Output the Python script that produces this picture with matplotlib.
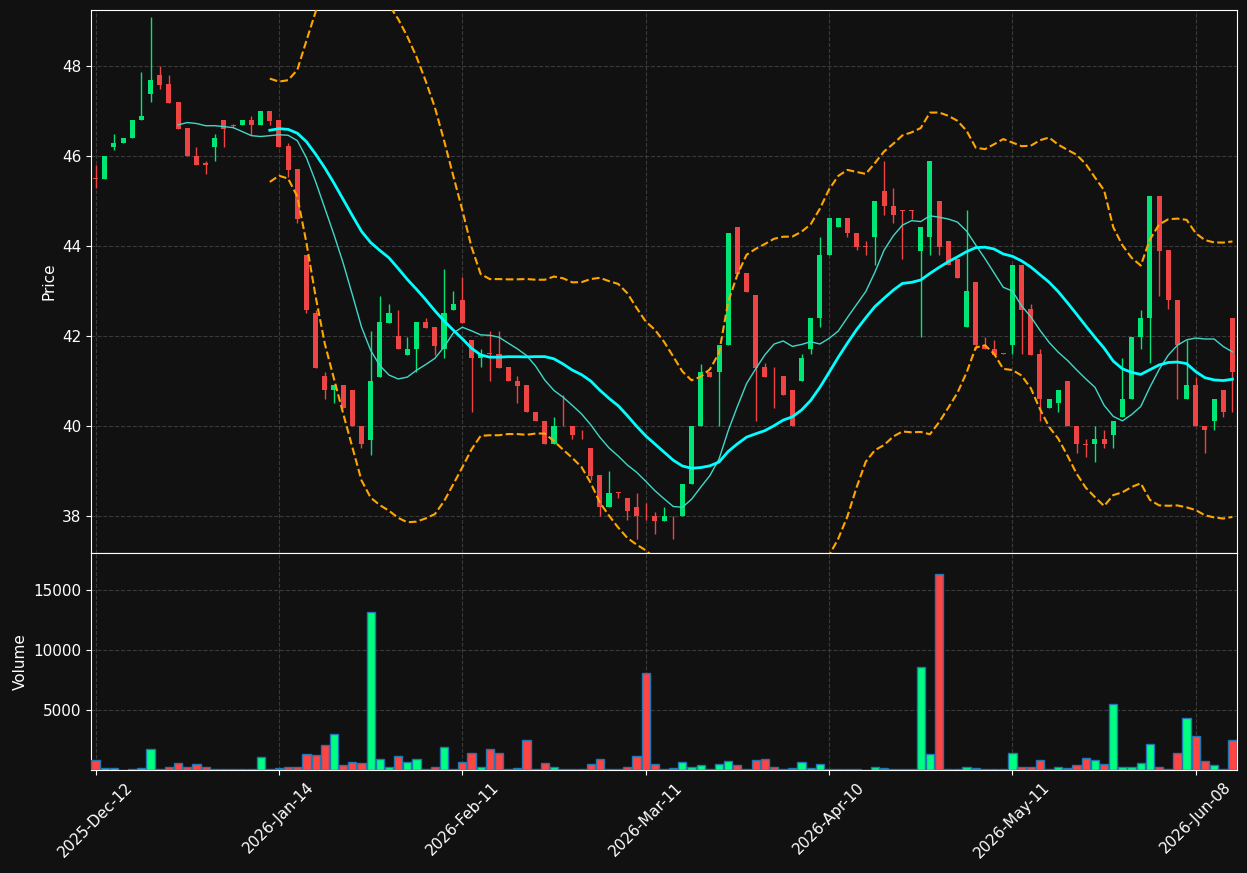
import numpy as np
import pandas as pd
import matplotlib
matplotlib.use('Agg')
import matplotlib.pyplot as plt

# daily bars (index 0 = 2025-Dec-12)
opens = [45.50, 45.48, 46.19, 46.28, 46.39, 46.79, 47.38, 47.80, 47.60, 47.20,
         46.61, 46.00, 45.83, 46.19, 46.79, 46.69, 46.68, 46.79, 46.68, 46.99,
         46.79, 46.21, 45.70, 43.79, 42.50, 41.12, 40.79, 40.90, 40.80, 40.00,
         39.69, 41.09, 42.29, 42.00, 41.57, 41.70, 42.30, 42.20, 41.70, 42.58,
         42.80, 41.90, 41.50, 41.61, 41.60, 41.31, 41.00, 40.90, 40.30, 40.11,
         39.59, 40.01, 40.00, 39.72, 39.50, 38.92, 38.21, 38.53, 38.40, 38.21,
         38.01, 38.00, 37.90, 38.01, 37.99, 38.71, 40.00, 41.19, 41.19, 41.79,
         44.41, 43.39, 42.90, 41.31, 41.12, 41.11, 40.80, 40.99, 41.70, 42.39,
         43.79, 44.41, 44.61, 44.29, 43.99, 44.20, 45.21, 44.89, 44.80, 44.80,
         43.89, 44.20, 45.00, 44.10, 43.70, 42.19, 43.19, 41.80, 41.71, 41.61,
         41.79, 43.58, 42.60, 41.60, 40.39, 40.50, 40.99, 40.00, 39.60, 39.59,
         39.71, 39.79, 40.19, 40.59, 41.98, 42.39, 45.10, 43.90, 42.80, 40.59,
         40.90, 40.00, 40.11, 40.80, 42.39]
highs = [45.79, 46.00, 46.48, 46.40, 46.79, 47.87, 49.08, 48.00, 47.79, 47.20,
         46.61, 46.20, 45.89, 46.48, 46.79, 46.70, 46.79, 46.89, 46.99, 46.99,
         46.79, 46.29, 45.70, 43.79, 42.58, 41.19, 40.90, 40.90, 40.80, 40.00,
         42.10, 42.89, 42.70, 42.58, 41.98, 42.30, 42.39, 42.20, 43.49, 43.00,
         43.30, 41.90, 41.70, 42.10, 42.10, 41.31, 41.11, 40.90, 40.30, 40.11,
         40.19, 40.69, 40.00, 39.90, 39.50, 38.92, 38.99, 38.53, 38.40, 38.52,
         38.30, 38.10, 38.19, 38.01, 38.71, 40.00, 41.38, 41.19, 41.79, 44.29,
         44.41, 43.39, 42.90, 41.39, 41.30, 41.11, 40.80, 41.60, 42.39, 44.20,
         44.61, 44.61, 44.61, 44.29, 44.10, 45.00, 45.89, 45.29, 44.80, 44.80,
         44.41, 45.89, 45.00, 44.10, 43.70, 44.79, 43.19, 41.98, 41.90, 41.61,
         43.58, 43.58, 42.70, 41.70, 40.59, 40.80, 40.99, 40.00, 39.71, 40.00,
         39.90, 40.11, 41.50, 41.98, 42.58, 45.10, 45.10, 43.90, 42.80, 41.90,
         41.09, 40.00, 40.59, 40.80, 42.39]
lows = [45.29, 45.48, 46.14, 46.28, 46.39, 46.79, 47.19, 47.48, 47.18, 46.59,
        45.99, 45.79, 45.60, 45.89, 46.20, 46.62, 46.68, 46.47, 46.68, 46.68,
        46.19, 45.52, 44.50, 42.50, 41.29, 40.59, 40.50, 40.39, 39.99, 39.50,
        39.35, 41.09, 42.29, 41.70, 41.57, 41.19, 42.17, 41.58, 41.50, 42.58,
        42.29, 40.31, 41.30, 41.00, 41.29, 41.00, 40.50, 40.31, 40.11, 39.59,
        39.59, 39.99, 39.71, 39.70, 38.81, 38.00, 38.21, 38.40, 37.92, 37.48,
        37.91, 37.60, 37.90, 37.48, 37.99, 38.71, 40.00, 41.09, 40.00, 41.79,
        43.37, 42.98, 40.11, 41.09, 40.40, 40.69, 39.99, 40.99, 41.60, 42.19,
        43.79, 44.41, 44.20, 43.90, 43.79, 43.58, 44.69, 44.50, 43.70, 44.60,
        41.98, 43.79, 43.79, 43.58, 43.29, 42.19, 41.71, 41.70, 41.58, 41.59,
        41.60, 41.60, 41.58, 40.11, 40.39, 40.31, 39.99, 39.40, 39.31, 39.21,
        39.50, 39.50, 40.19, 40.59, 41.70, 41.39, 42.89, 42.60, 40.59, 40.59,
        39.99, 39.40, 39.90, 40.19, 40.31]
closes = [45.48, 46.00, 46.29, 46.40, 46.79, 46.89, 47.68, 47.58, 47.18, 46.59,
          45.99, 45.79, 45.80, 46.40, 46.59, 46.67, 46.79, 46.68, 46.99, 46.78,
          46.19, 45.68, 44.60, 42.58, 41.29, 40.79, 40.90, 40.39, 39.99, 39.59,
          40.99, 42.30, 42.50, 41.70, 41.71, 42.30, 42.17, 41.77, 42.50, 42.70,
          42.29, 41.50, 41.60, 41.59, 41.29, 41.00, 40.89, 40.31, 40.11, 39.59,
          40.00, 39.99, 39.80, 39.70, 38.90, 38.21, 38.52, 38.51, 38.11, 38.00,
          37.99, 37.90, 38.00, 37.99, 38.71, 40.00, 41.19, 41.09, 41.79, 44.29,
          43.37, 42.98, 41.29, 41.09, 41.10, 40.69, 39.99, 41.52, 42.39, 43.79,
          44.61, 44.61, 44.29, 43.98, 43.97, 45.00, 44.89, 44.69, 44.78, 44.78,
          44.41, 45.89, 43.98, 43.58, 43.29, 43.00, 41.79, 41.70, 41.58, 41.59,
          43.58, 42.58, 41.58, 40.59, 40.59, 40.80, 39.99, 39.59, 39.58, 39.71,
          39.59, 40.11, 40.59, 41.98, 42.39, 45.10, 43.89, 42.79, 41.79, 40.90,
          39.99, 39.90, 40.59, 40.31, 41.19]
volumes = [800, 190, 190, 20, 110, 190, 1720, 110, 280, 550,
           280, 470, 280, 110, 110, 50, 50, 50, 1050, 50,
           190, 280, 280, 1300, 1220, 2050, 2960, 390, 640, 550,
           13170, 885, 280, 1135, 640, 885, 50, 280, 1880, 110,
           640, 1380, 280, 1720, 1380, 110, 190, 2460, 50, 550,
           280, 110, 50, 110, 470, 885, 110, 110, 280, 1135,
           8030, 470, 50, 190, 640, 280, 390, 50, 470, 720,
           390, 50, 800, 885, 280, 110, 190, 640, 190, 470,
           110, 110, 50, 50, 20, 280, 190, 50, 110, 50,
           8610, 1300, 16330, 50, 50, 280, 190, 110, 50, 50,
           1380, 280, 280, 800, 110, 280, 190, 390, 970, 800,
           470, 5450, 280, 280, 550, 2130, 280, 110, 1380, 4290,
           2800, 720, 390, 50, 2460]

tick_pos = [0, 20, 40, 60, 80, 100, 120]
tick_labels = ['2025-Dec-12', '2026-Jan-14', '2026-Feb-11', '2026-Mar-11',
               '2026-Apr-10', '2026-May-11', '2026-Jun-08']

df = pd.DataFrame({'open': opens, 'high': highs, 'low': lows,
                   'close': closes, 'volume': volumes})
df['sma10'] = df.close.rolling(10).mean()
df['sma20'] = df.close.rolling(20).mean()
std20 = df.close.rolling(20).std()
df['upper'] = df.sma20 + 2 * std20
df['lower'] = df.sma20 - 2 * std20

x = np.arange(len(df))
up = df.close >= df.open
candle_col = np.where(up, '#00e676', '#ef4444')
vol_col = np.where(up, '#00ff80', '#ff4444')

bg = '#111111'
fig = plt.figure(figsize=(12.47, 8.73), dpi=100, facecolor=bg)
ax1 = fig.add_axes([0.073, 0.3666, 0.919, 0.622], facecolor=bg)
ax2 = fig.add_axes([0.073, 0.118, 0.919, 0.2486], facecolor=bg, sharex=ax1)

# candles
ax1.vlines(x, df.low, df.high, color=candle_col, linewidth=1, zorder=2)
body_h = np.maximum((df.close - df.open).abs(), 0.02)
ax1.bar(x, body_h, bottom=np.minimum(df.open, df.close), width=0.55,
        color=candle_col, zorder=3)

ax1.plot(x, df.sma10, color='#40d8c8', linewidth=1, zorder=4)
ax1.plot(x, df.sma20, color='cyan', linewidth=2, zorder=4)
ax1.plot(x, df.upper, color='orange', linestyle='--', linewidth=1.5, zorder=4)
ax1.plot(x, df.lower, color='orange', linestyle='--', linewidth=1.5, zorder=4)

ax2.bar(x, df.volume, width=0.9, color=vol_col, edgecolor='#1f77b4',
        linewidth=1, zorder=3)

ax1.set_xlim(-0.5, 124.5)
ax1.set_ylim(37.18, 49.24)
ax2.set_ylim(0, 18060)
ax1.set_yticks([38, 40, 42, 44, 46, 48])
ax2.set_yticks([5000, 10000, 15000])
ax2.set_xticks(tick_pos)
ax2.set_xticklabels(tick_labels, rotation=45)

ax1.set_ylabel('Price', color='white', fontsize=11)
ax2.set_ylabel('Volume', color='white', fontsize=11)

for ax in (ax1, ax2):
    ax.grid(True, color='#3a3a3a', linestyle='--', linewidth=0.8)
    ax.set_axisbelow(True)
    ax.tick_params(colors='white', labelsize=11)
    for s in ax.spines.values():
        s.set_color('white')
ax1.tick_params(axis='x', labelbottom=False, length=0)

fig.savefig('out.png', dpi=100, facecolor=bg)
